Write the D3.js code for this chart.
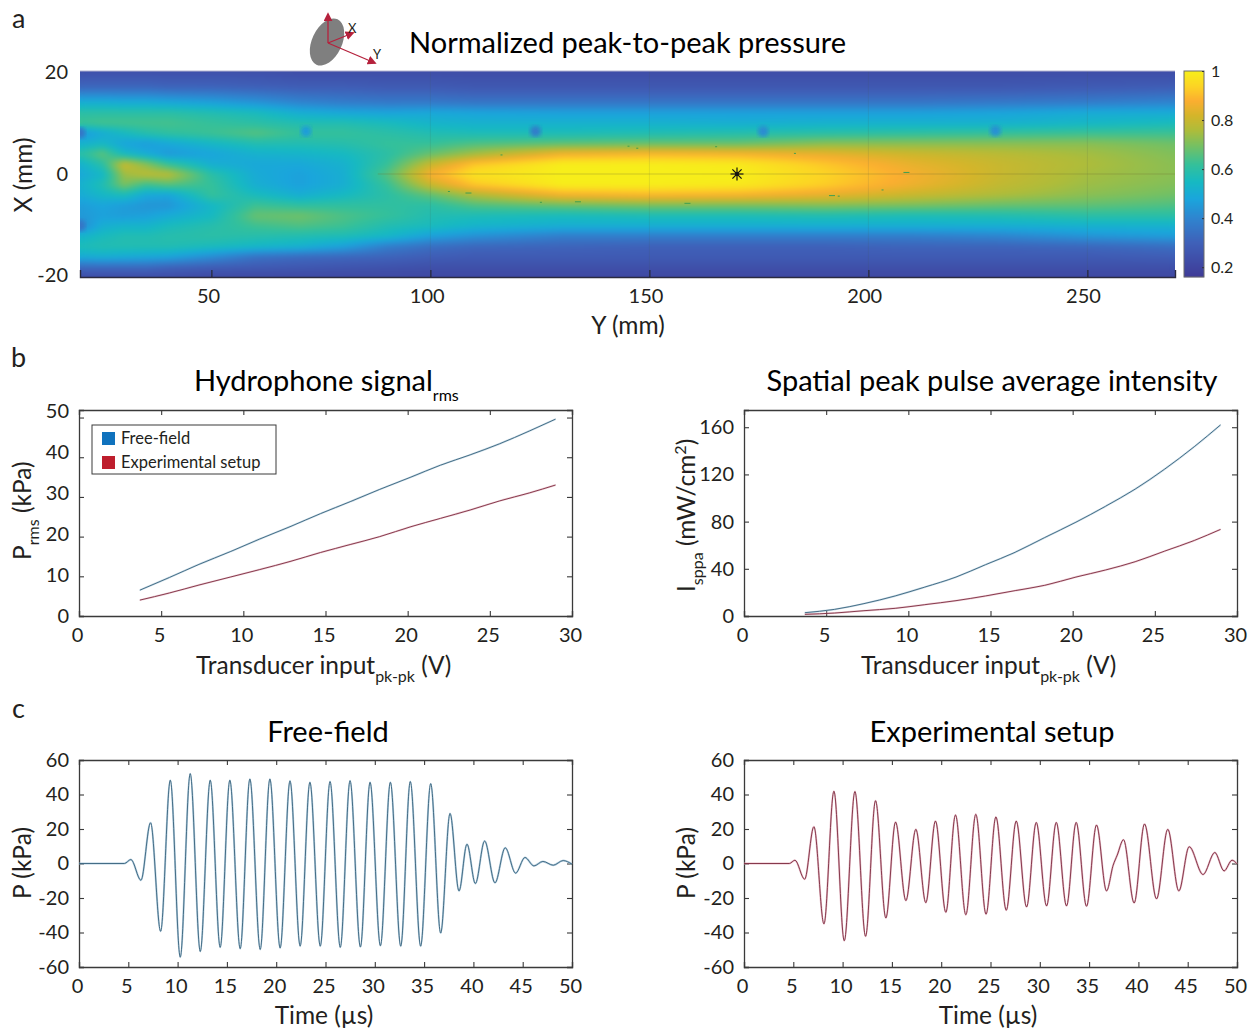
<!DOCTYPE html>
<meta charset='utf-8'>
<style>
	body { margin: 0; background: white; }
	svg { display: block; }
	text { font-family: Lato, 'Open Sans', sans-serif; fill: #231f20; }
	.tick text { font-size: 20px; }
	.title { font-size: 29px; fill: black; }
	.label { font-size: 24.5px; }
	.sub { font-size: 16px; }
	.letter { font-size: 27px; }
</style>
<body>
<script src='https://cdn.jsdelivr.net/npm/d3@7'></script>

<script type='text/javascript'>
	// panel a: normalized pressure, one array per Y position, top (X=20) to bottom (X=-20)
	var heatX = [20, 17, 14, 12, 10, 8, 6, 4, 2, 0, -2, -4, -6, -8, -10, -12, -14, -16, -18, -20];
	var heatY = [20, 25, 30, 35, 40, 50, 60, 70, 80, 90, 100, 110, 130, 150, 170, 190, 210, 230, 250, 270];
	var pressure = [
		[.24,.32,.51,.60,.63,.44,.52,.60,.52,.49,.52,.50,.46,.45,.41,.53,.57,.50,.33,.22],
		[.24,.32,.51,.60,.64,.50,.54,.67,.60,.54,.58,.54,.48,.47,.51,.56,.58,.51,.33,.22],
		[.24,.32,.50,.60,.64,.55,.48,.55,.80,.74,.70,.56,.46,.46,.53,.58,.58,.50,.33,.22],
		[.24,.32,.50,.60,.64,.59,.46,.50,.72,.78,.63,.49,.44,.47,.53,.58,.58,.49,.33,.22],
		[.24,.31,.49,.60,.64,.61,.49,.45,.62,.78,.66,.48,.44,.50,.56,.59,.58,.48,.31,.22],
		[.24,.31,.47,.58,.62,.63,.54,.48,.51,.60,.62,.62,.54,.55,.59,.60,.56,.42,.29,.21],
		[.24,.30,.44,.56,.60,.66,.58,.52,.49,.50,.51,.56,.63,.68,.63,.59,.54,.35,.28,.21],
		[.23,.29,.40,.51,.58,.62,.58,.53,.49,.47,.47,.51,.61,.69,.65,.58,.52,.33,.27,.21],
		[.23,.29,.38,.49,.58,.62,.59,.55,.52,.51,.51,.55,.61,.65,.63,.57,.47,.32,.26,.21],
		[.23,.28,.37,.48,.56,.60,.62,.60,.62,.66,.62,.60,.61,.62,.58,.54,.38,.31,.25,.21],
		[.23,.28,.37,.49,.53,.58,.62,.68,.80,.88,.80,.67,.60,.58,.56,.47,.34,.29,.24,.21],
		[.23,.27,.36,.48,.52,.57,.65,.75,.92,.97,.92,.76,.65,.57,.53,.43,.32,.28,.24,.21],
		[.23,.27,.36,.47,.52,.57,.67,.87,1.0,1.0,1.0,.87,.68,.56,.51,.38,.31,.28,.24,.21],
		[.23,.27,.36,.47,.52,.58,.68,.89,1.0,1.0,1.0,.89,.70,.57,.51,.38,.30,.28,.24,.21],
		[.23,.27,.36,.47,.51,.59,.68,.88,.99,1.0,.99,.88,.70,.57,.51,.38,.30,.28,.24,.21],
		[.23,.27,.36,.47,.52,.60,.72,.85,.92,.94,.93,.85,.71,.58,.51,.38,.30,.28,.24,.21],
		[.23,.27,.36,.47,.52,.61,.72,.81,.85,.87,.86,.80,.70,.57,.51,.38,.31,.28,.24,.21],
		[.23,.27,.37,.48,.52,.62,.72,.78,.80,.80,.79,.76,.68,.58,.51,.40,.31,.28,.24,.21],
		[.23,.28,.38,.50,.54,.63,.72,.75,.76,.75,.74,.72,.67,.60,.52,.44,.32,.28,.24,.21],
		[.23,.29,.40,.50,.56,.63,.69,.71,.72,.72,.71,.69,.65,.60,.52,.46,.34,.29,.24,.21]
	];
	var dipY = [71.6, 124, 176, 229, 20, 20];
	var dipX = [8.3, 8.3, 8.3, 8.4, 8, -10];
	var dipValue = [.46, .38, .42, .43, .36, .36];
	var speckY = [104, 108, 116, 125, 133, 145, 147, 158, 165, 183, 191, 193, 203, 208];
	var speckX = [-3.3, -3.6, 3.8, -5.4, -5.3, 5.5, 5.1, -5.6, 5.4, 4.1, -4.1, -4.2, -3, 0.4];
	var cmapValues = [.16, .3, .4, .48, .55, .62, .7, .76, .82, .88, .94, 1];
	var cmapColors = ['#3f3a96', '#3f60b8', '#2f84cf', '#1aa5dc', '#16b9c2', '#34c09a', '#78c060', '#aebc3a', '#d4b52a', '#fbae30', '#fcd424', '#f7ee1a'];

	// panel b
	var voltage = [3.7, 5.5, 7.3, 9.2, 11, 12.9, 14.7, 16.5, 18.3, 20.2, 22, 23.8, 25.6, 27.4, 29];
	var prmsFree = [6.5, 9.7, 13, 16.2, 19.4, 22.6, 25.8, 28.8, 31.9, 35, 38, 40.6, 43.4, 46.6, 49.6];
	var prmsExp = [4.0, 5.8, 7.8, 9.8, 11.7, 13.8, 16, 18, 20, 22.5, 24.6, 26.7, 29, 31, 33];
	var isppaFree = [2.8, 5.6, 10.5, 17, 24.5, 33, 43.5, 54, 66.5, 79.5, 93, 107.5, 124.5, 143.5, 162];
	var isppaExp = [1.4, 2.5, 4.5, 6.5, 9.6, 13, 17, 21.5, 26, 33, 39, 46, 55, 64, 73.4];

	// panel c: turning points of the waveforms
	var timeFree = [0, 4.6, 5.27, 6.28, 7.26, 8.28, 9.26, 10.27, 11.28, 12.3, 13.31, 14.32, 15.3, 16.35, 17.33, 18.38, 19.36, 20.4, 21.4, 22.43, 23.42, 24.47, 25.46, 26.5, 27.49, 28.54, 29.52, 30.57, 31.58, 32.63, 33.6, 34.65, 35.67, 36.68, 37.63, 38.54, 39.35, 40.2, 41.14, 42.19, 43.23, 44.28, 45.23, 46.14, 47.05, 48.1, 49.1, 50];
	var waveFree = [0, 0, 2.3, -9.7, 23.6, -39.3, 48.3, -54.3, 52.1, -51, 48.3, -48.6, 48.3, -49.4, 49, -49.8, 49, -49, 47.9, -47.9, 47.1, -47.9, 47.5, -48.6, 48, -48.4, 47.1, -47.7, 47.1, -47.9, 47.5, -47.9, 46.3, -40.3, 29, -15.9, 11.2, -11.6, 13, -11.2, 9.1, -5.6, 3.5, -1.4, 1.2, -1, 1.7, -0.4];
	var timeExp = [0, 4.6, 5.17, 6.15, 7.09, 8.11, 9.12, 10.17, 11.25, 12.33, 13.34, 14.39, 15.37, 16.42, 17.43, 18.44, 19.42, 20.47, 21.45, 22.5, 23.51, 24.55, 25.55, 26.6, 27.61, 28.66, 29.64, 30.69, 31.67, 32.71, 33.69, 34.74, 35.75, 36.77, 37.44, 37.85, 38.49, 39.57, 40.62, 41.84, 42.98, 44.1, 45.15, 46.56, 47.75, 48.69, 49.5, 50];
	var waveExp = [0, 0, 1.9, -9.1, 21.3, -35, 41.9, -44.8, 41.7, -42.2, 36.4, -31.6, 24, -21.5, 19.8, -22.7, 24.6, -28.3, 28.1, -29.7, 28.5, -29.4, 27, -27.1, 24.6, -25.2, 23.8, -24.6, 23.8, -24.6, 23.8, -24.8, 22.3, -15.9, -1, 4.8, 13.8, -22.9, 22.9, -20.5, 19.8, -15.9, 9.7, -6.4, 6.4, -4.3, 1.9, -0.2];

	var svg = d3.select('body').append('svg').attr('width', 1258).attr('height', 1032);
	var color = d3.scaleLinear().domain(cmapValues).range(cmapColors).clamp(true);

	function zipXY(xs, ys) {
		return xs.map(function (x, i) { return [x, ys[i]]; });
	}

	// frame with inward ticks on all four sides, MATLAB box style
	function boxAxes(box, xScale, yScale, xTicks, yTicks, yLabelScale) {
		var g = svg.append('g');
		var len = 5;
		function fmt(d) { return String(d); }
		var bottom = g.append('g').attr('transform', 'translate(0,' + box.b + ')')
			.call(d3.axisBottom(xScale).tickValues(xTicks).tickSize(-len).tickPadding(len + 7).tickFormat(fmt));
		var top = g.append('g').attr('transform', 'translate(0,' + box.t + ')')
			.call(d3.axisTop(xScale).tickValues(xTicks).tickSize(-len).tickFormat(''));
		var left = g.append('g').attr('transform', 'translate(' + box.l + ',0)')
			.call(d3.axisLeft(yScale).tickValues(yTicks).tickSize(-len).tickPadding(10).tickFormat(fmt));
		var right = g.append('g').attr('transform', 'translate(' + box.r + ',0)')
			.call(d3.axisRight(yScale).tickValues(yTicks).tickSize(-len).tickFormat(''));
		[bottom, top, left, right].forEach(function (a) {
			a.selectAll('path').attr('stroke', '#3a3a3a').attr('stroke-width', 1.3);
			a.selectAll('line').attr('stroke', '#3a3a3a').attr('stroke-width', 1.1);
			a.selectAll('text').attr('fill', '#231f20');
		});
		bottom.selectAll('.tick text').attr('dx', '-2px');
		if (yLabelScale) {
			left.selectAll('.tick text').attr('dy', function (d) {
				return (yLabelScale(d) - yScale(d) + 6.5) + 'px';
			});
		}
	}

	function trace(xScale, yScale, pts, halo, core, curve, haloOpacity) {
		var line = d3.line().x(function (d) { return xScale(d[0]); }).y(function (d) { return yScale(d[1]); }).curve(curve);
		svg.append('path').attr('d', line(pts)).attr('fill', 'none').attr('stroke', halo).attr('stroke-width', 2).attr('stroke-opacity', haloOpacity);
		svg.append('path').attr('d', line(pts)).attr('fill', 'none').attr('stroke', core).attr('stroke-width', .9);
	}

	// title-ish text helper, parts = [[string, isSubscript], ...]
	function richText(x, y, cls, parts, anchor, rotate) {
		var drop = cls === 'title' ? 10 : 8;
		var t = svg.append('text').attr('class', cls).attr('text-anchor', anchor || 'start')
			.attr('transform', 'translate(' + x + ',' + y + ')' + (rotate ? ' rotate(-90)' : ''));
		parts.forEach(function (p, i) {
			var s = t.append('tspan').text(p[0]);
			if (p[1] === 'sub') s.attr('class', 'sub').attr('dy', drop);
			else if (p[1] === 'sup') s.attr('class', 'sub').attr('dy', -9);
			else if (i > 0) s.attr('dy', parts[i - 1][1] === 'sub' ? -drop : 9);
		});
		return t;
	}

	// ---- panel a ----
	var heatBox = {l: 80, r: 1175, t: 71, b: 277};
	var heatXs = d3.scaleLinear().domain([20, 270]).range([heatBox.l, heatBox.r]);
	var heatYs = d3.scaleLinear().domain([-20, 20]).range([heatBox.b, heatBox.t]);
	var colScales = pressure.map(function (col) {
		return d3.scaleLinear().domain(heatX).range(col);
	});
	var w = heatBox.r - heatBox.l, h = heatBox.b - heatBox.t;
	var canvas = document.createElement('canvas');
	canvas.width = w;
	canvas.height = h;
	var ctx = canvas.getContext('2d');
	for (var px = 0; px < w; px++) {
		var yv = heatXs.invert(px + heatBox.l);
		var j = Math.max(1, Math.min(heatY.length - 1, d3.bisectRight(heatY, yv)));
		var f = (yv - heatY[j - 1]) / (heatY[j] - heatY[j - 1]);
		for (var py = 0; py < h; py++) {
			var xv = heatYs.invert(py + heatBox.t);
			ctx.fillStyle = color(colScales[j - 1](xv) * (1 - f) + colScales[j](xv) * f);
			ctx.fillRect(px, py, 1, 1);
		}
	}
	// soften the grid, the source image is a blurry screen grab
	var soft = document.createElement('canvas');
	soft.width = w;
	soft.height = h;
	var softCtx = soft.getContext('2d');
	softCtx.drawImage(canvas, 0, 0);
	softCtx.filter = 'blur(2.5px)';
	softCtx.drawImage(canvas, 0, 0);
	svg.append('image').attr('x', heatBox.l).attr('y', heatBox.t).attr('width', w).attr('height', h)
		.attr('href', soft.toDataURL());

	var defs = svg.append('defs');
	defs.append('filter').attr('id', 'soft').append('feGaussianBlur').attr('stdDeviation', 2);
	defs.append('clipPath').attr('id', 'heatClip').append('rect')
		.attr('x', heatBox.l).attr('y', heatBox.t).attr('width', w).attr('height', h);

	var heatLayer = svg.append('g').attr('clip-path', 'url(#heatClip)');
	heatLayer.selectAll('circle.dip').data(zipXY(dipY, dipX)).enter().append('circle').attr('class', 'dip')
		.attr('cx', function (d) { return heatXs(d[0]); }).attr('cy', function (d) { return heatYs(d[1]); })
		.attr('r', 5.5).attr('fill', function (d, i) { return color(dipValue[i]); }).attr('filter', 'url(#soft)');
	heatLayer.selectAll('line.grid').data([100, 150, 200, 250]).enter().append('line').attr('class', 'grid')
		.attr('x1', heatXs).attr('x2', heatXs).attr('y1', heatBox.t).attr('y2', heatBox.b)
		.attr('stroke', '#4a5a50').attr('stroke-opacity', .13);
	heatLayer.append('line').attr('x1', heatXs(88)).attr('x2', heatBox.r)
		.attr('y1', heatYs(0)).attr('y2', heatYs(0)).attr('stroke', '#6a6a30').attr('stroke-opacity', .3);
	heatLayer.selectAll('rect.speck').data(zipXY(speckY, speckX)).enter().append('rect').attr('class', 'speck')
		.attr('x', function (d) { return heatXs(d[0]); }).attr('y', function (d) { return heatYs(d[1]); })
		.attr('width', function (d, i) { return i % 3 === 1 ? 6 : 2; }).attr('height', 1).attr('fill', '#3f9f50');

	// focus marker
	var star = svg.append('g').attr('transform', 'translate(' + heatXs(170) + ',' + heatYs(0) + ')');
	star.selectAll('line').data([0, 45, 90, 135]).enter().append('line')
		.attr('x1', -6.5).attr('x2', 6.5).attr('stroke', '#111').attr('stroke-width', 1.2)
		.attr('transform', function (d) { return 'rotate(' + d + ')'; });
	star.append('circle').attr('r', 2).attr('fill', '#111');

	var heatXLabels = d3.scaleLinear().domain([50, 250]).range([208, 1083]);
	var heatBottom = svg.append('g').attr('transform', 'translate(0,' + heatBox.b + ')')
		.call(d3.axisBottom(heatXs).tickValues([50, 100, 150, 200, 250]).tickSize(-7).tickPadding(12).tickFormat(String));
	heatBottom.select('path').attr('stroke', '#2a2a40').attr('stroke-width', 1.4);
	heatBottom.selectAll('line').attr('stroke', '#222');
	heatBottom.selectAll('.tick text').attr('dx', function (d) { return (heatXLabels(d) - heatXs(d)) + 'px'; });
	var heatYLabels = d3.scaleLinear().domain([-20, 20]).range([275, 72]);
	var heatLeft = svg.append('g').attr('transform', 'translate(' + heatBox.l + ',0)')
		.call(d3.axisLeft(heatYs).tickValues([-20, 0, 20]).tickSize(0).tickPadding(12).tickFormat(String));
	heatLeft.select('path').remove();
	heatLeft.selectAll('.tick text').attr('dy', function (d) { return (heatYLabels(d) - heatYs(d) + 6.5) + 'px'; });
	svg.append('line').attr('x1', heatBox.l).attr('x2', heatBox.r).attr('y1', heatBox.t).attr('y2', heatBox.t)
		.attr('stroke', '#b4b4d0').attr('stroke-width', 1);

	// colorbar
	var barBox = {l: 1184, r: 1204, t: 71, b: 277};
	var barScale = d3.scaleLinear().domain([.16, 1]).range([barBox.b, barBox.t]);
	svg.selectAll('rect.bar').data(d3.range(barBox.t, barBox.b)).enter().append('rect').attr('class', 'bar')
		.attr('x', barBox.l).attr('y', function (d) { return d; }).attr('width', barBox.r - barBox.l).attr('height', 1.2)
		.attr('fill', function (d) { return color(barScale.invert(d)); });
	svg.append('rect').attr('x', barBox.l).attr('y', barBox.t).attr('width', barBox.r - barBox.l).attr('height', barBox.b - barBox.t)
		.attr('fill', 'none').attr('stroke', '#6a6a6a').attr('stroke-width', 1);
	var barAxis = svg.append('g').attr('transform', 'translate(' + barBox.r + ',0)')
		.call(d3.axisRight(barScale).tickValues([.2, .4, .6, .8, 1]).tickSize(-2).tickPadding(7).tickFormat(String));
	barAxis.select('path').remove();
	barAxis.selectAll('line').attr('stroke', '#333');
	barAxis.selectAll('text').style('font-size', '16px');

	// probe icon
	var icon = svg.append('g');
	defs.append('marker').attr('id', 'head').attr('viewBox', '0 0 10 10').attr('refX', 8).attr('refY', 5)
		.attr('markerWidth', 9).attr('markerHeight', 9).attr('markerUnits', 'userSpaceOnUse').attr('orient', 'auto')
		.append('path').attr('d', 'M0,0L10,5L0,10Z').attr('fill', '#b5213c');
	icon.append('ellipse').attr('cx', 327).attr('cy', 42).attr('rx', 15).attr('ry', 25)
		.attr('transform', 'rotate(25 327 42)').attr('fill', '#7f7f7f');
	[[328, 14], [353, 33], [375, 63]].forEach(function (end) {
		icon.append('line').attr('x1', 328).attr('y1', 43).attr('x2', end[0]).attr('y2', end[1])
			.attr('stroke', '#b5213c').attr('stroke-width', 1.3).attr('marker-end', 'url(#head)');
	});
	icon.append('text').attr('x', 348).attr('y', 33).style('font-size', '13px').text('X');
	icon.append('text').attr('x', 373).attr('y', 59).style('font-size', '13px').text('Y');

	richText(409, 53, 'title', [['Normalized peak-to-peak pressure']]);
	richText(628, 334, 'label', [['Y (mm)']], 'middle');
	richText(32, 175, 'label', [['X (mm)']], 'middle', true);
	richText(12, 28, 'letter', [['a']]);
	richText(11, 367, 'letter', [['b']]);
	richText(12, 718, 'letter', [['c']]);

	// ---- panel b ----
	var boxL = {l: 79, r: 572, t: 410, b: 616};
	var boxR = {l: 744, r: 1237, t: 410, b: 616};
	var voltTicks = [0, 5, 10, 15, 20, 25, 30];
	var xL = d3.scaleLinear().domain([0, 30]).range([boxL.l, boxL.r]);
	var yL = d3.scaleLinear().domain([0, 51.9]).range([boxL.b, boxL.t]);
	var yLLabels = d3.scaleLinear().domain([0, 50]).range([616, 411]);
	var xR = d3.scaleLinear().domain([0, 30]).range([boxR.l, boxR.r]);
	var yR = d3.scaleLinear().domain([0, 174.6]).range([boxR.b, boxR.t]);

	boxAxes(boxL, xL, yL, voltTicks, [0, 10, 20, 30, 40, 50], yLLabels);
	boxAxes(boxR, xR, yR, voltTicks, [0, 40, 80, 120, 160]);
	trace(xL, yL, zipXY(voltage, prmsFree), '#9cbdd4', '#37627c', d3.curveMonotoneX, .5);
	trace(xL, yL, zipXY(voltage, prmsExp), '#dfa6b4', '#7c2a3e', d3.curveMonotoneX, .5);
	trace(xR, yR, zipXY(voltage, isppaFree), '#9cbdd4', '#37627c', d3.curveMonotoneX, .5);
	trace(xR, yR, zipXY(voltage, isppaExp), '#dfa6b4', '#7c2a3e', d3.curveMonotoneX, .5);

	richText(194, 391, 'title', [['Hydrophone signal'], ['rms', 'sub']]);
	richText(992, 391, 'title', [['Spatial peak pulse average intensity']], 'middle');
	richText(196, 674, 'label', [['Transducer input'], ['pk-pk', 'sub'], [' (V)']]);
	richText(861, 674, 'label', [['Transducer input'], ['pk-pk', 'sub'], [' (V)']]);
	richText(31, 560, 'label', [['P'], ['rms', 'sub'], [' (kPa)']], 'start', true);
	richText(695, 592, 'label', [['I'], ['sppa', 'sub'], [' (mW/cm'], ['2', 'sup'], [')']], 'start', true);

	// legend
	var legendNames = ['Free-field', 'Experimental setup'];
	var legendColors = ['#0f72bd', '#be1e2d'];
	svg.append('rect').attr('x', 92).attr('y', 425).attr('width', 184).attr('height', 49)
		.attr('fill', 'white').attr('stroke', '#3a3a3a').attr('stroke-width', 1);
	var legend = svg.selectAll('g.legend').data(legendNames).enter().append('g').attr('class', 'legend')
		.attr('transform', function (d, i) { return 'translate(102,' + (432 + i * 24) + ')'; });
	legend.append('rect').attr('width', 13).attr('height', 13).attr('fill', function (d, i) { return legendColors[i]; });
	legend.append('text').attr('x', 19).attr('y', 12).style('font-size', '16.5px').text(function (d) { return d; });

	// ---- panel c ----
	var boxCL = {l: 79, r: 572, t: 760, b: 967};
	var boxCR = {l: 744, r: 1237, t: 760, b: 967};
	var timeTicks = d3.range(0, 51, 5);
	var pTicks = [-60, -40, -20, 0, 20, 40, 60];
	var xCL = d3.scaleLinear().domain([0, 50]).range([boxCL.l, boxCL.r]);
	var xCR = d3.scaleLinear().domain([0, 50]).range([boxCR.l, boxCR.r]);
	var yC = d3.scaleLinear().domain([-60, 60]).range([boxCL.b, boxCL.t]);

	boxAxes(boxCL, xCL, yC, timeTicks, pTicks);
	boxAxes(boxCR, xCR, yC, timeTicks, pTicks);
	trace(xCL, yC, zipXY(timeFree, waveFree), '#9cbdd4', '#37627c', d3.curveMonotoneX, .75);
	trace(xCR, yC, zipXY(timeExp, waveExp), '#dfa6b4', '#7c2a3e', d3.curveMonotoneX, .75);

	richText(328, 742, 'title', [['Free-field']], 'middle');
	richText(992, 742, 'title', [['Experimental setup']], 'middle');
	richText(324, 1024, 'label', [['Time (µs)']], 'middle');
	richText(988, 1024, 'label', [['Time (µs)']], 'middle');
	richText(31, 863, 'label', [['P (kPa)']], 'middle', true);
	richText(695, 863, 'label', [['P (kPa)']], 'middle', true);
</script>
